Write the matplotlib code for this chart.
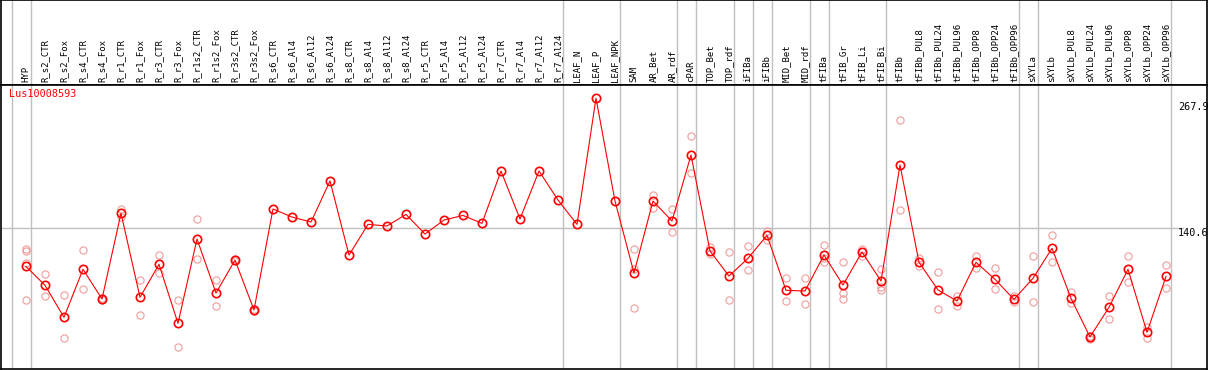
import numpy as np
import matplotlib
matplotlib.use("Agg")
import matplotlib.pyplot as plt

gene = "Lus10008593"

labels = ["HYP", "R_s2_CTR", "R_s2_Fox", "R_s4_CTR", "R_s4_Fox", "R_r1_CTR", "R_r1_Fox",
          "R_r3_CTR", "R_r3_Fox", "R_r1s2_CTR", "R_r1s2_Fox", "R_r3s2_CTR", "R_r3s2_Fox",
          "R_s6_CTR", "R_s6_Al4", "R_s6_Al12", "R_s6_Al24", "R_s8_CTR", "R_s8_Al4", "R_s8_Al12",
          "R_s8_Al24", "R_r5_CTR", "R_r5_Al4", "R_r5_Al12", "R_r5_Al24", "R_r7_CTR", "R_r7_Al4",
          "R_r7_Al12", "R_r7_Al24", "LEAF_N", "LEAF_P", "LEAF_NPK", "SAM", "AR_Bet", "AR_rdf",
          "cPAR", "TOP_Bet", "TOP_rdf", "iFIBa", "iFIBb", "MID_Bet", "MID_rdf", "tFIBa",
          "tFIB_Gr", "tFIB_Li", "tFIB_Bi", "tFIBb", "tFIBb_PUL8", "tFIBb_PUL24", "tFIBb_PUL96",
          "tFIBb_OPP8", "tFIBb_OPP24", "tFIBb_OPP96", "sXYLa", "sXYLb", "sXYLb_PUL8",
          "sXYLb_PUL24", "sXYLb_PUL96", "sXYLb_OPP8", "sXYLb_OPP24", "sXYLb_OPP96"]

# mean values (red line)
means = [102.9, 84.3, 52.9, 100.0, 70.9, 155.0, 72.5, 104.9, 47.0, 129.7, 76.7, 109.1, 60.1,
         159.2, 151.3, 146.4, 186.7, 114.0, 144.1, 142.5, 153.9, 134.6, 148.4, 152.9, 145.1,
         196.5, 149.4, 196.5, 168.0, 144.1, 267.9, 167.0, 96.4, 167.0, 147.4, 212.2, 118.0,
         93.4, 110.8, 133.4, 79.4, 78.7, 114.0, 84.6, 117.0, 88.5, 202.4, 106.9, 79.7, 68.9,
         106.9, 90.2, 70.5, 91.2, 120.6, 71.5, 33.6, 62.7, 100.0, 38.2, 93.1]

# replicate values (light circles)
reps = [[119.9, 118.0, 106.2, 69.9], [95.1, 73.5], [74.8, 32.6], [118.6, 80.7], [71.5, 70.0],
        [159.2, 151.6], [89.2, 54.8], [113.7, 96.1], [69.9, 23.7], [149.0, 109.8], [89.2, 63.7],
        [110.5, 108.0], [61.0, 59.0],
        [], [], [], [], [], [], [], [], [], [], [], [], [], [], [], [], [], [], [],
        [119.9, 100.3, 61.7], [172.9, 160.5], [159.2, 136.3], [230.8, 194.2], [121.6, 114.7],
        [116.7, 69.9], [122.9, 99.0], [137.9, 128.8], [91.2, 68.9], [91.2, 65.6],
        [123.8, 111.5, 106.9], [106.9, 76.4, 70.5], [120.2, 113.0], [100.3, 82.9, 79.7],
        [246.2, 158.2], [110.8, 103.5], [97.0, 60.7], [73.8, 64.3], [113.0, 101.0],
        [101.0, 80.4], [73.8, 67.6], [113.0, 67.6], [133.4, 106.9], [77.7, 66.6],
        [31.3, 34.8], [73.8, 50.9], [113.0, 87.2], [43.1, 32.9], [103.9, 81.4]]

# last sample of every group (grey separators)
group_ends = ["HYP", "R_r7_Al24", "LEAF_NPK", "AR_rdf", "cPAR", "TOP_rdf", "iFIBa", "iFIBb",
              "MID_rdf", "tFIBa", "tFIB_Bi", "tFIBb_OPP96", "sXYLa", "sXYLb_OPP96"]

ymax = 267.9
ymid = 140.6

x = np.arange(len(labels))
red = "#ff0000"
pale = "#f09a9a"
grey = "#c0c0c0"
mono = "DejaVu Sans Mono"

W, H = 1209, 370
fig = plt.figure(figsize=(W / 100, H / 100), dpi=100)
xlim = (-25 / 19, -25 / 19 + 1206 / 19)

head = fig.add_axes([1 / W, (H - 85) / H, 1206 / W, 85 / H])
ax = fig.add_axes([1 / W, 1 / H, 1206 / W, 284 / H])

for a in (head, ax):
    a.set_xlim(xlim)
    a.set_xticks([])
    a.set_yticks([])
    for s in a.spines.values():
        s.set_color("black")
        s.set_linewidth(1.2)
head.set_ylim(0, 1)
ax.set_ylim(2.16, 280.9)

sep = [-1] + [labels.index(g) for g in group_ends]
for s in sep:
    head.axvline(s + 0.25, color=grey, lw=1, zorder=0)
    ax.axvline(s + 0.25, color=grey, lw=1, zorder=0)

ax.plot([xlim[0], 60.9], [ymid, ymid], color=grey, lw=1, zorder=0)

for i, lab in enumerate(labels):
    head.annotate(lab, (i, 0), xytext=(0, 2), textcoords="offset points",
                  rotation=90, ha="center", va="bottom", fontsize=6.5, family=mono)

for i, r in enumerate(reps):
    if r:
        ax.plot([i] * len(r), r, "o", ms=5.2, mfc="none", mec=pale, mew=0.8, zorder=2)

ax.plot(x, means, "-", color=red, lw=0.8, zorder=3)
ax.plot(x, means, "o", ms=6, mfc="none", mec=red, mew=1.2, zorder=4)

ax.text(8 / 1206, 0.985, gene, transform=ax.transAxes, color=red, fontsize=7.3,
        family=mono, ha="left", va="top")

tx = (1178 - 26) / 19
ax.annotate(f"{ymax}", (tx, ymax), xytext=(0, -3), textcoords="offset points",
            ha="left", va="top", fontsize=7.3, family=mono)
ax.annotate(f"{ymid}", (tx, ymid), xytext=(0, 0), textcoords="offset points",
            ha="left", va="top", fontsize=7.3, family=mono)
ax.annotate("0", (tx, 0), xytext=(0, 3), textcoords="offset points",
            ha="left", va="bottom", fontsize=7.3, family=mono)

fig.savefig("out.png", dpi=100)
